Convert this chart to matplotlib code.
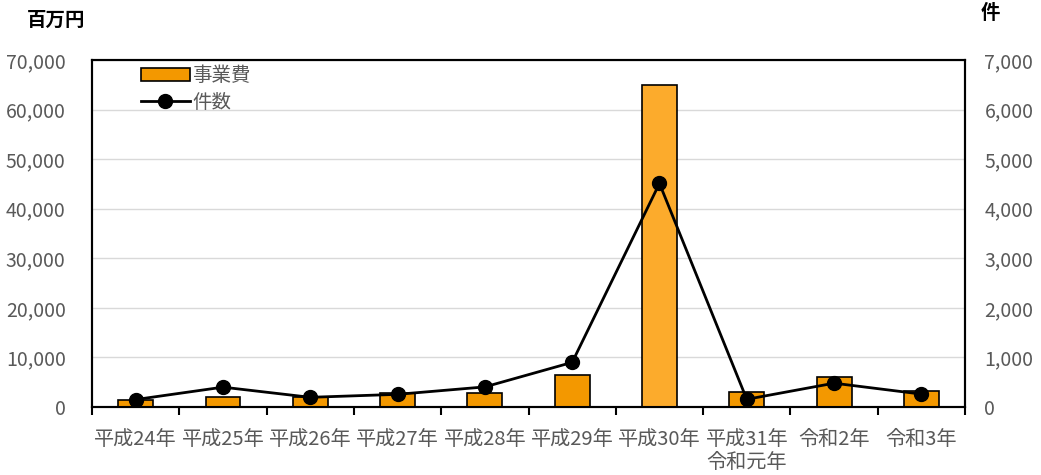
import matplotlib
matplotlib.use("Agg")
import matplotlib.pyplot as plt
import numpy as np

plt.rcParams["font.family"] = ["Noto Sans CJK JP", "DejaVu Sans"]

years = ["平成24年", "平成25年", "平成26年", "平成27年", "平成28年",
         "平成29年", "平成30年", "平成31年\n令和元年", "令和2年", "令和3年"]
cost = [1400, 1950, 2100, 2750, 2750, 6500, 65000, 3100, 6000, 3300]  # 百万円
count = [150, 400, 195, 255, 405, 900, 4510, 155, 480, 260]  # 件

bar_colors = ["#F39800"] * len(years)
bar_colors[6] = "#FCAB2C"
grey = "#595959"

fig = plt.figure(figsize=(10.41, 4.75), dpi=100)
ax = fig.add_axes([0.0884, 0.1432, 0.8386, 0.7305])
ax2 = ax.twinx()

x = np.arange(len(years))
bars = ax.bar(x, cost, width=0.4, color=bar_colors, edgecolor="black",
              linewidth=1.2, label="事業費", zorder=3)
line, = ax2.plot(x, count, color="black", linewidth=2, marker="o",
                 markersize=10, label="件数", zorder=4)

ax.set_xlim(-0.5, len(years) - 0.5)
ax.set_ylim(0, 70000)
ax2.set_ylim(0, 7000)
ax.set_yticks(range(0, 70001, 10000))
ax2.set_yticks(range(0, 7001, 1000))
ax.yaxis.set_major_formatter(matplotlib.ticker.StrMethodFormatter("{x:,.0f}"))
ax2.yaxis.set_major_formatter(matplotlib.ticker.StrMethodFormatter("{x:,.0f}"))
ax.grid(axis="y", color="#D9D9D9", linewidth=1, zorder=0)
ax.set_axisbelow(True)

ax.set_xticks(x)
ax.set_xticklabels(years, linespacing=1.1)
ax.set_xticks(np.arange(-0.5, len(years)), minor=True)
ax.tick_params(axis="x", which="major", length=0, pad=16, labelsize=14.5, labelcolor=grey)
ax.tick_params(axis="x", which="minor", length=6, width=1.5, color="black")
ax.tick_params(axis="y", length=0, pad=19, labelsize=14, labelcolor=grey)
ax2.tick_params(axis="y", length=0, pad=14, labelsize=14, labelcolor=grey)

for a in (ax, ax2):
    for s in a.spines.values():
        s.set_color("black")
        s.set_linewidth(1.5)

fig.text(0.026, 0.957, "百万円", fontsize=14, fontweight="bold", ha="left", va="center")
fig.text(0.951, 0.972, "件", fontsize=14, fontweight="bold", ha="center", va="center")

ax.legend([bars, line], ["事業費", "件数"], loc="upper left",
          bbox_to_anchor=(0.036, 1.035), frameon=False, fontsize=14,
          labelcolor=grey, handlelength=2.5, handletextpad=0.15,
          labelspacing=0.3)

fig.savefig("out.png", dpi=100)
